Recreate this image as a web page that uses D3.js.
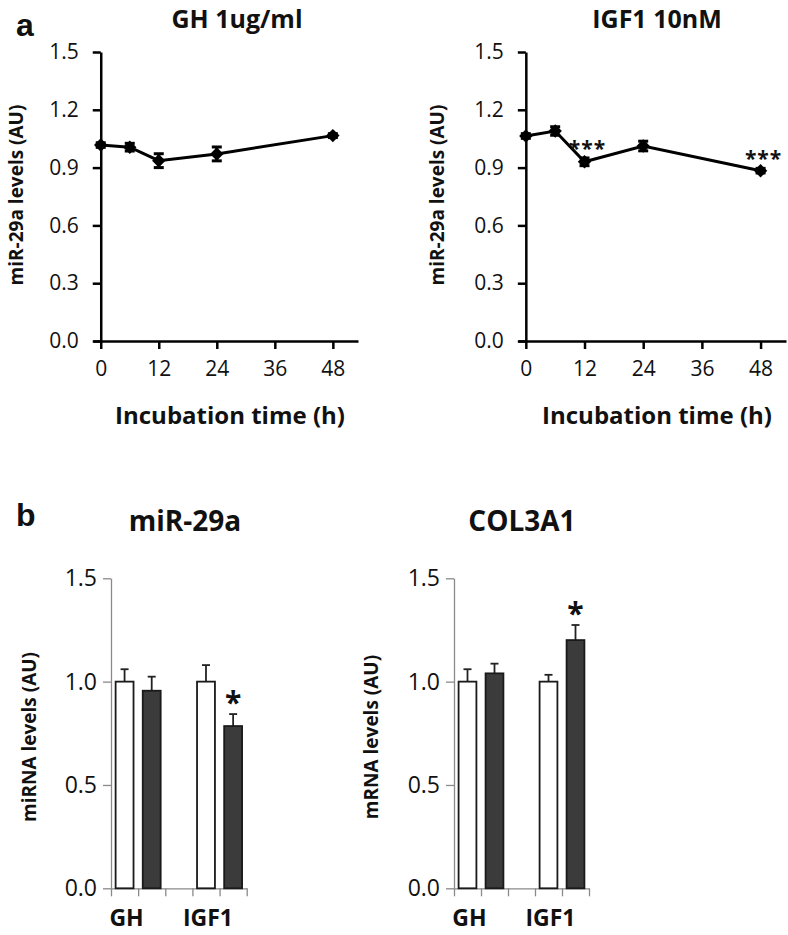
<!DOCTYPE html>
<html>
<head>
<meta charset="utf-8">
<script src="https://d3js.org/d3.v7.min.js"></script>
<style>
  body { margin: 0; background: #fff; }
  svg text { font-family: "Open Sans", Lato, sans-serif; fill: #111; }
</style>
</head>
<body>
<svg id="fig" width="788" height="935"></svg>
<script>
// ---- data (a): time course ----
const times = [0, 6, 12, 24, 48];
const timeTicks = [0, 12, 24, 36, 48];
const ghMean = [1.017, 1.006, 0.936, 0.971, 1.066];
const ghErr  = [0.012, 0.020, 0.036, 0.036, 0.010];
const igfMean = [1.064, 1.090, 0.930, 1.012, 0.884];
const igfErr  = [0.012, 0.022, 0.020, 0.025, 0.012];
const igfStars = [null, null, "***", null, "***"];
const lineTicks = [0, 0.3, 0.6, 0.9, 1.2, 1.5];

// ---- data (b): bars ----
const barCats = ["GH-c", "GH-t", "gap", "IGF1-c", "IGF1-t"];
const barLabels = ["GH", "", "", "IGF1", ""];
const barFill = ["white", "dark", null, "white", "dark"];
const mirMean = [1.00, 0.956, null, 1.00, 0.785];
const mirErr  = [0.06, 0.068, null, 0.08, 0.058];
const mirStars = [null, null, null, null, "*"];
const colMean = [1.00, 1.040, null, 1.00, 1.201];
const colErr  = [0.06, 0.047, null, 0.033, 0.073];
const colStars = [null, null, null, null, "*"];
const barTicks = [0, 0.5, 1.0, 1.5];

const svg = d3.select('#fig');

// panel letters
svg.append('text').attr('x', 16).attr('y', 36)
  .style('font-family', 'Liberation Sans, Arial, sans-serif')
  .style('font-weight', 'bold').style('font-size', '32px').text('a');
svg.append('text').attr('x', 16).attr('y', 526)
  .style('font-family', 'Liberation Sans, Arial, sans-serif')
  .style('font-weight', 'bold').style('font-size', '32px').text('b');

function linePanel(opt) {
  const x = d3.scaleLinear().domain([-1.6, 53.2]).range([opt.x0, opt.x1]);
  const y = d3.scaleLinear().domain([0, 1.5]).range([341, 52]);
  const g = svg.append('g');

  // x axis at y=0
  const xa = g.append('g').attr('transform', 'translate(0,' + y(0) + ')')
    .call(d3.axisBottom(x).tickValues(timeTicks).tickSize(8).tickSizeOuter(0).tickPadding(8));
  xa.select('.domain').attr('stroke', '#000').attr('stroke-width', 2.5);
  xa.selectAll('.tick line').attr('stroke', '#000').attr('stroke-width', 2.5);
  xa.selectAll('.tick text').style('font-size', '21px').attr('fill', '#111').attr('dy', '0.9em');

  // y axis at t=0
  const ya = g.append('g').attr('transform', 'translate(' + x(0) + ',0)')
    .call(d3.axisLeft(y).tickValues(lineTicks).tickFormat(d3.format('.1f')).tickSize(8).tickSizeOuter(0).tickPadding(14));
  ya.select('.domain').attr('stroke', '#000').attr('stroke-width', 2.5);
  ya.selectAll('.tick line').attr('stroke', '#000').attr('stroke-width', 2.5);
  ya.selectAll('.tick text').style('font-size', '21px').attr('fill', '#111');

  const pts = times.map((t, i) => ({ t: t, m: opt.mean[i], e: opt.err[i], s: opt.stars ? opt.stars[i] : null }));

  g.append('path').datum(pts)
    .attr('fill', 'none').attr('stroke', '#000').attr('stroke-width', 3)
    .attr('d', d3.line().x(d => x(d.t)).y(d => y(d.m)));

  // error bars
  const eb = g.selectAll('.eb').data(pts).enter().append('g');
  eb.append('line')
    .attr('x1', d => x(d.t)).attr('x2', d => x(d.t))
    .attr('y1', d => y(d.m - d.e)).attr('y2', d => y(d.m + d.e))
    .attr('stroke', '#000').attr('stroke-width', 3);
  [-1, 1].forEach(sgn => {
    eb.append('line')
      .attr('x1', d => x(d.t) - 5).attr('x2', d => x(d.t) + 5)
      .attr('y1', d => y(d.m + sgn * d.e)).attr('y2', d => y(d.m + sgn * d.e))
      .attr('stroke', '#000').attr('stroke-width', 3);
  });

  // diamond markers
  g.selectAll('.mk').data(pts).enter().append('path')
    .attr('transform', d => 'translate(' + x(d.t) + ',' + y(d.m) + ')')
    .attr('d', d3.symbol().type(d3.symbolDiamond2).size(115))
    .attr('fill', '#000');

  g.selectAll('.st').data(pts.filter(d => d.s)).enter().append('text')
    .attr('x', d => x(d.t) + 3).attr('y', d => y(d.m + d.e) - 2)
    .attr('text-anchor', 'middle')
    .style('font-size', '21px').style('font-weight', 'bold').attr('fill', '#444')
    .style('letter-spacing', '1px')
    .text(d => d.s);

  // titles
  g.append('text').attr('x', opt.tx).attr('y', 28).attr('text-anchor', 'middle')
    .style('font-size', '25px').style('font-weight', 'bold').text(opt.title);
  g.append('text').attr('x', opt.xtx).attr('y', 424).attr('text-anchor', 'middle')
    .style('font-size', '24px').style('font-weight', 'bold').text('Incubation time (h)');
  g.append('text').attr('transform', 'translate(' + opt.ylx + ',195) rotate(-90)')
    .attr('text-anchor', 'middle').attr('dy', '0.35em')
    .style('font-size', '19px').style('font-weight', 'bold').text('miR-29a levels (AU)');
}

linePanel({ x0: 93, x1: 358, mean: ghMean, err: ghErr, title: 'GH 1ug/ml', tx: 237, xtx: 230, ylx: 16 });
linePanel({ x0: 518, x1: 786, mean: igfMean, err: igfErr, stars: igfStars, title: 'IGF1 10nM', tx: 657, xtx: 657, ylx: 437 });

function barPanel(opt) {
  const y = d3.scaleLinear().domain([0, 1.5]).range([888.3, 578.3]);
  const xb = d3.scaleBand().domain(barCats).range([opt.x0, opt.x1]).paddingInner(0.34).paddingOuter(0.17);
  const xi = d3.scaleLinear().domain([0, barCats.length]).range([opt.x0, opt.x1]);
  const g = svg.append('g');

  const ya = g.append('g').attr('transform', 'translate(' + opt.x0 + ',0)')
    .call(d3.axisLeft(y).tickValues(barTicks).tickFormat(d3.format('.1f')).tickSize(8).tickSizeOuter(0).tickPadding(6));
  ya.select('.domain').attr('stroke', '#8a8a8a').attr('stroke-width', 1.3);
  ya.selectAll('.tick line').attr('stroke', '#8a8a8a').attr('stroke-width', 1.3);
  ya.selectAll('.tick text').style('font-size', '23px').attr('fill', '#111');

  const xa = g.append('g').attr('transform', 'translate(0,' + y(0) + ')')
    .call(d3.axisBottom(xi).ticks(barCats.length).tickFormat('').tickSize(8).tickSizeOuter(0));
  xa.select('.domain').attr('stroke', '#8a8a8a').attr('stroke-width', 1.3);
  xa.selectAll('.tick line').attr('stroke', '#8a8a8a').attr('stroke-width', 1.3);

  const rows = barCats.map((c, i) => ({ c: c, m: opt.mean[i], e: opt.err[i], f: barFill[i], s: opt.stars[i], lab: barLabels[i] }))
  const bars = rows.filter(d => d.m != null);

  // error bars (upper only)
  g.selectAll('.eb').data(bars).enter().append('line')
    .attr('x1', d => xb(d.c) + xb.bandwidth() / 2).attr('x2', d => xb(d.c) + xb.bandwidth() / 2)
    .attr('y1', d => y(d.m)).attr('y2', d => y(d.m + d.e))
    .attr('stroke', '#222').attr('stroke-width', 1.8);
  g.selectAll('.ec').data(bars).enter().append('line')
    .attr('x1', d => xb(d.c) + xb.bandwidth() / 2 - 4).attr('x2', d => xb(d.c) + xb.bandwidth() / 2 + 4)
    .attr('y1', d => y(d.m + d.e)).attr('y2', d => y(d.m + d.e))
    .attr('stroke', '#222').attr('stroke-width', 1.8);

  g.selectAll('.bar').data(bars).enter().append('rect')
    .attr('x', d => xb(d.c)).attr('width', xb.bandwidth())
    .attr('y', d => y(d.m)).attr('height', d => y(0) - y(d.m))
    .attr('fill', d => d.f === 'dark' ? '#3b3b3b' : '#fff')
    .attr('stroke', '#1a1a1a').attr('stroke-width', 1.8);

  g.selectAll('.st').data(bars.filter(d => d.s)).enter().append('text')
    .attr('x', d => xb(d.c) + xb.bandwidth() / 2).attr('y', d => y(d.m + d.e) - 1)
    .attr('text-anchor', 'middle')
    .style('font-size', '30px').style('font-weight', 'bold').text(d => d.s);

  g.selectAll('.xl').data(rows.filter(d => d.lab)).enter().append('text')
    .attr('x', d => xb(d.c) + xb.bandwidth() / 2 + 2).attr('y', 926)
    .attr('text-anchor', 'middle')
    .style('font-size', '23px').style('font-weight', 'bold').text(d => d.lab);

  g.append('text').attr('x', opt.tx).attr('y', 531).attr('text-anchor', 'middle')
    .style('font-size', '28px').style('font-weight', 'bold').text(opt.title);
  g.append('text').attr('transform', 'translate(' + opt.ylx + ',737) rotate(-90)')
    .attr('text-anchor', 'middle').attr('dy', '0.35em')
    .style('font-size', '19px').style('font-weight', 'bold').text(opt.ylab);
}

barPanel({ x0: 111, x1: 246.7, mean: mirMean, err: mirErr, stars: mirStars, title: 'miR-29a', tx: 185, ylx: 29, ylab: 'miRNA levels (AU)' });
barPanel({ x0: 454, x1: 589, mean: colMean, err: colErr, stars: colStars, title: 'COL3A1', tx: 522, ylx: 371, ylab: 'mRNA levels (AU)' });
</script>
</body>
</html>
